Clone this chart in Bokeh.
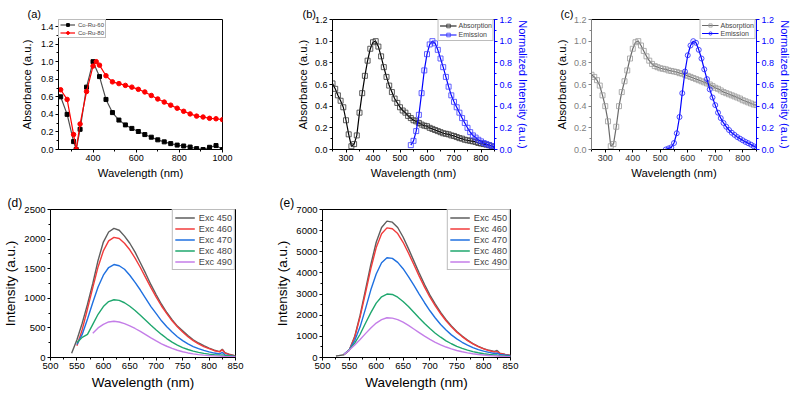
from bokeh.plotting import figure
from bokeh.models import (Range1d, LinearAxis, FixedTicker, PrintfTickFormatter,
                          Legend, LegendItem, Spacer)
from bokeh.layouts import row, column
from bokeh.embed import file_html
from bokeh.resources import INLINE

NAN = float("nan")
FONT = "Liberation Sans"

# ---------------- data ----------------
# (a) absorbance of Co-Ru samples
A60_WL = [250, 280, 310, 322, 340, 370, 400, 430, 460, 490, 520, 550, 580, 610, 640,
          670, 700, 730, 760, 790, 820, 850, 880, 910, 940, 970, 1000]
A60_ABS = [0.60, 0.40, 0.09, 0.0, 0.23, 0.71, 1.0, 0.83, 0.57, 0.42, 0.335, 0.28, 0.24, 0.205, 0.17,
           0.14, 0.11, 0.087, 0.067, 0.05, 0.04, 0.028, 0.01, 0.0, 0.025, 0.045, 0.0]
A80_WL = [250, 280, 310, 322, 340, 370, 400, 415, 430, 460, 490, 520, 550, 580, 610, 640,
          670, 700, 730, 760, 790, 820, 850, 880, 910, 940, 970, 1000]
A80_ABS = [0.68, 0.57, 0.17, 0.0, 0.29, 0.66, 0.95, 1.0, 0.96, 0.84, 0.77, 0.75, 0.73, 0.71, 0.685, 0.655,
           0.615, 0.575, 0.54, 0.505, 0.47, 0.435, 0.405, 0.38, 0.37, 0.355, 0.35, 0.34]

# (b) absorption / emission
B_ABS_WL = list(range(250, 851, 10))
B_ABS = [0.61, 0.56, 0.50, 0.45, 0.39, 0.27, 0.14, 0.03, 0.05, 0.13,
         0.34, 0.52, 0.68, 0.82, 0.93, 0.99, 1.0, 0.95, 0.86, 0.76,
         0.67, 0.59, 0.53, 0.47, 0.43, 0.39, 0.36, 0.34, 0.31, 0.29,
         0.27, 0.26, 0.245, 0.23, 0.22, 0.215, 0.20, 0.19, 0.18, 0.17,
         0.16, 0.15, 0.145, 0.14, 0.13, 0.125, 0.115, 0.105, 0.10, 0.09,
         0.085, 0.08, 0.075, 0.07, 0.06, 0.055, 0.05, 0.045, 0.04, 0.03, 0.02]
B_EM_WL = list(range(540, 851, 10))
B_EM = [0.04, 0.08, 0.17, 0.32, 0.52, 0.73, 0.88, 0.97, 1.0, 0.98,
        0.92, 0.84, 0.76, 0.67, 0.58, 0.50, 0.44, 0.39, 0.34, 0.29,
        0.245, 0.20, 0.16, 0.13, 0.11, 0.09, 0.075, 0.06, 0.05, 0.04, 0.03, 0.02]

# (c) absorption / emission
C_ABS_WL = list(range(250, 851, 10))
C_ABS = [0.69, 0.67, 0.64, 0.59, 0.50, 0.40, 0.26, 0.03, 0.05, 0.21,
         0.40, 0.53, 0.63, 0.73, 0.84, 0.93, 0.99, 1.0, 0.96, 0.91,
         0.86, 0.82, 0.79, 0.77, 0.76, 0.75, 0.745, 0.74, 0.73, 0.725,
         0.72, 0.715, 0.705, 0.70, 0.69, 0.68, 0.67, 0.66, 0.65, 0.64,
         0.63, 0.62, 0.61, 0.60, 0.585, 0.57, 0.56, 0.545, 0.53, 0.52,
         0.51, 0.50, 0.49, 0.48, 0.47, 0.455, 0.445, 0.435, 0.425, 0.415, 0.41]
C_EM_WL = list(range(520, 851, 10))
C_EM = [0.0, 0.01, 0.02, 0.06, 0.15, 0.30, 0.52, 0.72, 0.87, 0.96,
        1.0, 0.985, 0.92, 0.84, 0.74, 0.65, 0.555, 0.48, 0.41, 0.34,
        0.29, 0.245, 0.21, 0.18, 0.155, 0.135, 0.115, 0.10, 0.085, 0.07,
        0.058, 0.045, 0.03, 0.02]

# (d) emission spectra, several excitation wavelengths
D_WL = [540, 550, 560, 570, 580, 590, 600, 610, 620, 630, 640, 650, 660, 670, 680, 690, 700,
        710, 720, 730, 740, 750, 760, 770, 780, 790, 800, 810, 820, 825, 830, 840, 850]
D_450 = [70, 300, 580, 900, 1250, 1640, 1950, 2120, 2180, 2150, 2050, 1930, 1780, 1600, 1420, 1230, 1060,
         900, 760, 640, 530, 450, 370, 300, 245, 200, 160, 125, 100, 140, 80, 50, 25]
D_460 = [NAN, 200, 470, 820, 1180, 1530, 1800, 1970, 2030, 2010, 1930, 1820, 1680, 1520, 1350, 1180, 1020,
         870, 740, 620, 520, 430, 350, 285, 230, 185, 150, 115, 95, 130, 75, 45, 25]
D_470 = [NAN, 220, 390, 650, 930, 1190, 1390, 1520, 1570, 1550, 1490, 1390, 1270, 1140, 1000, 860, 740,
         620, 520, 430, 350, 285, 230, 185, 150, 120, 95, 75, 60, 85, 45, 30, 15]
D_480 = [NAN, 250, 340, 390, 560, 730, 860, 945, 975, 965, 925, 865, 795, 715, 630, 545, 465,
         390, 320, 260, 210, 168, 135, 108, 87, 70, 57, 47, 40, 45, 35, 28, 22]
D_490 = [NAN, NAN, NAN, NAN, 410, 500, 560, 600, 612, 600, 572, 535, 490, 440, 385, 330, 280,
         232, 190, 153, 122, 97, 77, 61, 49, 40, 33, 27, 23, 22, 19, 15, 12]

# (e) emission spectra, several excitation wavelengths
E_WL = [525, 530, 540, 550, 560, 570, 580, 590, 600, 610, 620, 630, 640, 650, 660, 670, 680, 690,
        700, 710, 720, 730, 740, 750, 760, 770, 780, 790, 800, 810, 820, 825, 830, 840, 850]
E_450 = [70, 90, 130, 350, 1000, 2000, 3200, 4400, 5450, 6150, 6450, 6400, 6150, 5700, 5150, 4570, 4000, 3450,
         2950, 2520, 2130, 1790, 1490, 1230, 1010, 820, 660, 530, 420, 340, 290, 330, 210, 150, 100]
E_460 = [NAN, NAN, 140, 360, 960, 1920, 3050, 4200, 5200, 5850, 6130, 6090, 5860, 5450, 4940, 4400, 3850, 3330,
         2850, 2440, 2070, 1740, 1450, 1200, 990, 800, 645, 515, 410, 325, 260, 280, 195, 140, 95]
E_470 = [NAN, NAN, 150, 370, 800, 1450, 2300, 3200, 3950, 4480, 4720, 4690, 4500, 4200, 3830, 3420, 3000, 2590,
         2210, 1870, 1560, 1300, 1070, 880, 720, 585, 470, 375, 300, 240, 190, 200, 150, 115, 85]
E_480 = [NAN, NAN, 150, 360, 680, 1100, 1620, 2120, 2570, 2870, 3000, 2980, 2850, 2650, 2410, 2140, 1870, 1610,
         1370, 1150, 960, 790, 650, 530, 430, 350, 280, 225, 180, 145, 115, 115, 90, 70, 55]
E_490 = [NAN, NAN, 150, 350, 590, 850, 1130, 1400, 1630, 1790, 1880, 1860, 1790, 1670, 1520, 1350, 1180, 1010,
         860, 720, 600, 495, 405, 330, 270, 218, 176, 142, 115, 93, 75, 70, 60, 48, 38]

EXC_LABELS = ["Exc 450", "Exc 460", "Exc 470", "Exc 480", "Exc 490"]
EXC_COLORS = ["#5e5e5e", "#f23b3b", "#1f70e0", "#1fa76e", "#c47ee8"]

# ticks
A_XTICKS = [200, 400, 600, 800, 1000]
A_XMINOR = [300, 500, 700, 900]
A_YTICKS = [0.0, 0.2, 0.4, 0.6, 0.8, 1.0, 1.2, 1.4]
A_YMINOR = [0.1, 0.3, 0.5, 0.7, 0.9, 1.1, 1.3]
BC_XTICKS = [300, 400, 500, 600, 700, 800]
BC_XMINOR = [250, 350, 450, 550, 650, 750, 850]
BC_YTICKS = [0.0, 0.2, 0.4, 0.6, 0.8, 1.0, 1.2]
BC_YMINOR = [0.1, 0.3, 0.5, 0.7, 0.9, 1.1]
DE_XTICKS = [500, 550, 600, 650, 700, 750, 800, 850]
DE_XMINOR = [525, 575, 625, 675, 725, 775, 825]
D_YTICKS = [0, 500, 1000, 1500, 2000, 2500]
D_YMINOR = [250, 750, 1250, 1750, 2250]
E_YTICKS = [0, 1000, 2000, 3000, 4000, 5000, 6000, 7000]
E_YMINOR = [500, 1500, 2500, 3500, 4500, 5500, 6500]


# ---------------- helpers ----------------
def base(width, height, xr, yr, bl, br, bt, bb):
    p = figure(width=width, height=height, x_range=Range1d(*xr), y_range=Range1d(*yr),
               output_backend="svg", toolbar_location=None, tools="",
               min_border_left=bl, min_border_right=br, min_border_top=bt, min_border_bottom=bb)
    p.xgrid.visible = False
    p.ygrid.visible = False
    p.outline_line_color = "black"
    p.outline_line_width = 1
    p.outline_line_alpha = 1
    p.background_fill_color = "white"
    p.border_fill_color = "white"
    return p


def style_axis(ax, title, fs_tick, fs_title, ticks, minor, color="black", label_color=None,
               title_color="black", fmt=None, standoff=3, lab_standoff=2):
    ax.axis_label = title
    ax.axis_label_text_font = FONT
    ax.axis_label_text_font_size = f"{fs_title}px"
    ax.axis_label_text_font_style = "normal"
    ax.axis_label_text_color = title_color
    ax.axis_label_standoff = standoff
    ax.major_label_text_font = FONT
    ax.major_label_text_font_size = f"{fs_tick}px"
    ax.major_label_text_color = label_color or color
    ax.major_label_standoff = lab_standoff
    ax.axis_line_color = color
    ax.major_tick_line_color = color
    ax.minor_tick_line_color = color
    ax.major_tick_out = 3
    ax.major_tick_in = 0
    ax.minor_tick_out = 2
    ax.minor_tick_in = 0
    ax.ticker = FixedTicker(ticks=ticks, minor_ticks=minor)
    if fmt:
        ax.formatter = PrintfTickFormatter(format=fmt)


def panel_label(p, text, shift_left, size):
    # panel tag placed as the figure title, moved left of the frame
    p.title.text = text
    p.title.align = "left"
    p.title.offset = -shift_left
    p.title.standoff = 0
    p.title.text_font = FONT
    p.title.text_font_size = size
    p.title.text_font_style = "normal"
    p.title.text_color = "black"


def add_legend(p, items, loc, fs, gw, gh, pad, standoff=3, spacing=0, border="#7a7a7a"):
    lg = Legend(items=items, location=loc, label_text_font=FONT, label_text_font_size=fs,
                glyph_width=gw, glyph_height=gh, label_height=gh, label_width=10,
                padding=pad, spacing=spacing, margin=0, label_standoff=standoff,
                border_line_color=border, border_line_width=1,
                background_fill_color="white", background_fill_alpha=1)
    p.add_layout(lg)


# ---------------- (a) ----------------
pa = base(252, 190, (240, 1000), (0, 1.48), 58, 30, 17, 41)
style_axis(pa.xaxis[0], "Wavelength (nm)", 9, 11.3, A_XTICKS, A_XMINOR)
style_axis(pa.yaxis[0], "Absorbance (a.u.)", 9, 11.3, A_YTICKS, A_YMINOR, fmt="%.1f", standoff=5)
l60 = pa.line(A60_WL, A60_ABS, line_color="#4d4d4d", line_width=1.2)
s60 = pa.scatter(A60_WL, A60_ABS, marker="square", size=4, fill_color="black", line_color="black")
l80 = pa.line(A80_WL, A80_ABS, line_color="#ff0000", line_width=1.2)
s80 = pa.scatter(A80_WL, A80_ABS, marker="circle", size=4.5, fill_color="#ff0000", line_color="#ff0000")
add_legend(pa, [LegendItem(label="Co-Ru-60", renderers=[l60, s60]),
                LegendItem(label="Co-Ru-80", renderers=[l80, s80])],
           "top_left", "6px", 15, 7, 1, standoff=3, spacing=1)
panel_label(pa, "(a)", 31, "11px")

# ---------------- (b) ----------------
pb = base(280, 190, (250, 850), (0, 1.2), 80, 35, 19, 41)
pb.extra_y_ranges = {"em": Range1d(0, 1.2)}
style_axis(pb.xaxis[0], "Wavelength (nm)", 9, 11.3, BC_XTICKS, BC_XMINOR)
style_axis(pb.yaxis[0], "Absorbance (a.u.)", 9, 11.3, BC_YTICKS, BC_YMINOR, fmt="%.1f")
rb = LinearAxis(y_range_name="em")
style_axis(rb, "Normalized Intensity (a.u.)", 9, 11, BC_YTICKS, BC_YMINOR, color="#0000ff",
           title_color="#0000ff", fmt="%.1f", standoff=2)
pb.add_layout(rb, "right")
lba = pb.line(B_ABS_WL, B_ABS, line_color="black", line_width=1.2)
sba = pb.scatter(B_ABS_WL, B_ABS, marker="square", size=5, fill_color=None, line_color="#333333", line_width=0.8)
lbe = pb.line(B_EM_WL, B_EM, line_color="#0000ff", line_width=1.2, y_range_name="em")
sbe = pb.scatter(B_EM_WL, B_EM, marker="square", size=5, fill_color=None, line_color="#3a3aff",
                 line_width=0.8, y_range_name="em")
add_legend(pb, [LegendItem(label="Absorption", renderers=[lba, sba]),
                LegendItem(label="Emission", renderers=[lbe, sbe])],
           "top_right", "7px", 17, 9, 1, standoff=2)
panel_label(pb, "(b)", 30, "11px")

# ---------------- (c) ----------------
pc = base(262, 190, (250, 850), (0, 1.2), 59, 33, 16, 39)
pc.extra_y_ranges = {"em": Range1d(0, 1.2)}
style_axis(pc.xaxis[0], "Wavelength (nm)", 9, 11.3, BC_XTICKS, BC_XMINOR, label_color="#333333")
style_axis(pc.yaxis[0], "Absorbance (a.u.)", 9, 11.3, BC_YTICKS, BC_YMINOR, color="#808080",
           fmt="%.1f")
rc = LinearAxis(y_range_name="em")
style_axis(rc, "Normalized Intensity (a.u.)", 9, 11, BC_YTICKS, BC_YMINOR, color="#0000ff",
           title_color="#0000ff", fmt="%.1f", standoff=2)
pc.add_layout(rc, "right")
lca = pc.line(C_ABS_WL, C_ABS, line_color="#6a6a6a", line_width=1.2)
sca = pc.scatter(C_ABS_WL, C_ABS, marker="square", size=5, fill_color=None, line_color="#9a9a9a", line_width=0.8)
lce = pc.line(C_EM_WL, C_EM, line_color="#0000ff", line_width=1.2, y_range_name="em")
sce = pc.scatter(C_EM_WL, C_EM, marker="circle", size=5, fill_color=None, line_color="#2020ff",
                 line_width=0.8, y_range_name="em")
add_legend(pc, [LegendItem(label="Absorption", renderers=[lca, sca]),
                LegendItem(label="Emission", renderers=[lce, sce])],
           "top_right", "7px", 17, 8, 1, standoff=2)
panel_label(pc, "(c)", 31, "11px")

# ---------------- (d) ----------------
pd_ = base(262, 208, (500, 850), (0, 2500), 49, 27, 19, 41)
style_axis(pd_.xaxis[0], "Wavelength (nm)", 9.5, 13.5, DE_XTICKS, DE_XMINOR)
style_axis(pd_.yaxis[0], "Intensity (a.u.)", 9.5, 13.5, D_YTICKS, D_YMINOR)
d_items = []
for lab, col, ys in zip(EXC_LABELS, EXC_COLORS, [D_450, D_460, D_470, D_480, D_490]):
    r = pd_.line(D_WL, ys, line_color=col, line_width=1.4)
    d_items.append(LegendItem(label=lab, renderers=[r]))
add_legend(pd_, d_items, "top_right", "9.2px", 20, 11, 2, standoff=4)
panel_label(pd_, "(d)", 43, "12px")

# ---------------- (e) ----------------
pe = base(258, 208, (500, 850), (0, 7000), 60, 10, 17, 38)
style_axis(pe.xaxis[0], "Wavelength (nm)", 9.5, 13.5, DE_XTICKS, DE_XMINOR)
style_axis(pe.yaxis[0], "Intensity (a.u.)", 9.5, 13.5, E_YTICKS, E_YMINOR)
e_items = []
for lab, col, ys in zip(EXC_LABELS, EXC_COLORS, [E_450, E_460, E_470, E_480, E_490]):
    r = pe.line(E_WL, ys, line_color=col, line_width=1.4)
    e_items.append(LegendItem(label=lab, renderers=[r]))
add_legend(pe, e_items, "top_right", "9.2px", 20, 11, 2, standoff=4)
panel_label(pe, "(e)", 43, "12px")

layout = column(row(pa, pb, pc), row(pd_, pe, Spacer(width=274, height=208)))
open("out.html", "w").write(file_html(layout, INLINE))
